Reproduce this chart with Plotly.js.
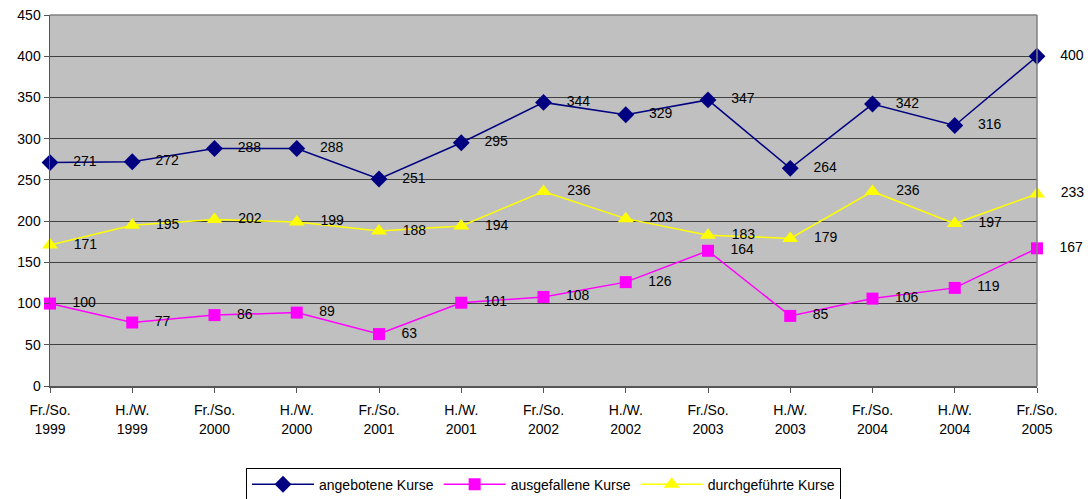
<!DOCTYPE html>
<html><head><meta charset="utf-8">
<script src="https://cdn.plot.ly/plotly-3.0.1.min.js"></script>
<style>html,body{margin:0;padding:0;background:#fff;}#chart{width:1088px;height:499px;}</style>
</head><body><div id="chart"></div>
<script>
var semesters = ["Fr./So.","H./W.","Fr./So.","H./W.","Fr./So.","H./W.","Fr./So.","H./W.","Fr./So.","H./W.","Fr./So.","H./W.","Fr./So."];
var years = ["1999","1999","2000","2000","2001","2001","2002","2002","2003","2003","2004","2004","2005"];
var angeboten = [271,272,288,288,251,295,344,329,347,264,342,316,400];
var ausgefallen = [100,77,86,89,63,101,108,126,164,85,106,119,167];
var durchgefuehrt = [171,195,202,199,188,194,236,203,183,179,236,197,233];
var yTicks = [0,50,100,150,200,250,300,350,400,450];

var idx = semesters.map(function(_, i){ return i; });
function mk(name, vals, color, symbol, size){
  return {
    type:'scatter', mode:'lines+markers+text', name:name,
    x: idx, y: vals,
    text: vals.map(function(v){ return '\u2002\u2002' + v; }),
    textposition:'middle right',
    textfont:{family:'Liberation Sans, Arial, sans-serif', size:14, color:'#000'},
    line:{color:color, width:1.5},
    marker:{color:color, symbol:symbol, size:size, line:{width:0}},
    cliponaxis:false
  };
}
var data = [
  mk('angebotene Kurse', angeboten, '#000080', 'diamond', 13),
  mk('ausgefallene Kurse', ausgefallen, '#FF00FF', 'square', 12),
  mk('durchgeführte Kurse', durchgefuehrt, '#FFFF00', 'triangle-up', 14),
  {type:'scatter', x:[0], y:[0], xaxis:'x2', mode:'markers', marker:{opacity:0}, showlegend:false, hoverinfo:'skip'}
];
var tf = {family:'Liberation Sans, Arial, sans-serif', size:14, color:'#000'};
var layout = {
  width:1088, height:499,
  margin:{l:50, r:51, t:15, b:113, autoexpand:false},
  paper_bgcolor:'#fff', plot_bgcolor:'#C0C0C0',
  font:{family:'Liberation Sans, Arial, sans-serif', size:13, color:'#000'},
  showlegend:true,
  legend:{orientation:'h', x:0.5, xanchor:'center', y:-0.22, yanchor:'top',
    bordercolor:'#000', borderwidth:1, bgcolor:'#fff',
    font:{size:14}, itemwidth:62, tracegroupgap:0},
  xaxis:{range:[0,12], tickvals:idx, ticktext:semesters, showgrid:false, zeroline:false,
    showline:true, linecolor:'#555', linewidth:1.5, ticks:'outside', ticklen:5, tickcolor:'#555',
    tickfont:tf, ticklabelstandoff:6, automargin:false, fixedrange:true},
  xaxis2:{range:[0,12], overlaying:'x', side:'bottom', anchor:'y', tickvals:idx, ticktext:years,
    showgrid:false, zeroline:false, showline:false, ticks:'', tickfont:tf,
    ticklabelstandoff:33, automargin:false, fixedrange:true},
  yaxis:{range:[0,450], tickvals:yTicks, showgrid:true, gridcolor:'#404040', gridwidth:1,
    zeroline:false, showline:true, linecolor:'#555', linewidth:1.5, ticks:'outside', ticklen:5,
    tickcolor:'#555', tickfont:tf, automargin:false, fixedrange:true},
  shapes:[
    {type:'line', xref:'paper', yref:'paper', x0:0, x1:1, y0:1, y1:1, line:{color:'#808080', width:1.5}},
    {type:'line', xref:'paper', yref:'paper', x0:1, x1:1, y0:0, y1:1, line:{color:'#808080', width:1.5}}
  ]
};
Plotly.newPlot('chart', data, layout, {displayModeBar:false, staticPlot:true});
</script></body></html>
